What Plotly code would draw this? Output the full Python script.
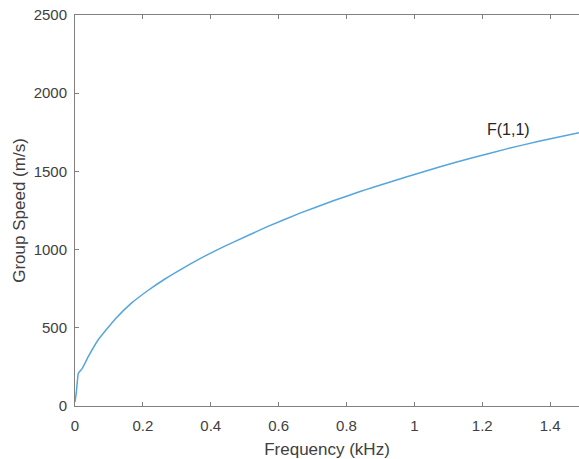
import plotly.graph_objects as go

freq_khz = [0.0, 0.004, 0.0098, 0.0216, 0.039, 0.069, 0.118, 0.167, 0.216, 0.265, 0.315,
            0.363, 0.413, 0.467, 0.565, 0.663, 0.761, 0.84, 0.879, 0.978, 1.076,
            1.174, 1.272, 1.37, 1.485]
group_speed = [25, 90, 209, 241, 315, 425, 555, 659, 740, 812, 877,
               936, 992, 1048, 1145, 1233, 1312, 1371, 1399, 1466, 1530,
               1589, 1644, 1695, 1747]

label_text = "F(1,1)"
label_x = 1.276
label_y = 1765

x_ticks = [0, 0.2, 0.4, 0.6, 0.8, 1.0, 1.2, 1.4]
x_tick_text = ["0", "0.2", "0.4", "0.6", "0.8", "1", "1.2", "1.4"]
y_ticks = [0, 500, 1000, 1500, 2000, 2500]

fig = go.Figure()
fig.add_trace(go.Scatter(x=freq_khz, y=group_speed, mode="lines",
                         line=dict(color="#55a6dc", width=1.5, shape="spline", smoothing=0.3),
                         showlegend=False))
fig.add_annotation(x=label_x, y=label_y, text=label_text, showarrow=False,
                   font=dict(size=16, color="#262626"))

font_family = "Liberation Sans, Arial, sans-serif"
axis_common = dict(showgrid=False, zeroline=False, showline=True, linecolor="#808080",
                   linewidth=1, ticks="inside", ticklen=4, tickcolor="#808080",
                   automargin=False,
                   tickfont=dict(size=15, color="#404040", family=font_family),
                   title_font=dict(size=17, color="#404040", family=font_family))

fig.update_xaxes(range=[0, 1.485], tickvals=x_ticks, ticktext=x_tick_text,
                 mirror="ticks", title_text="Frequency (kHz)", title_standoff=11,
                 ticklabelstandoff=6, **axis_common)
fig.update_yaxes(range=[0, 2500], tickvals=y_ticks, mirror=False,
                 title_text="Group Speed (m/s)", title_standoff=3, ticklabelstandoff=4,
                 **axis_common)

fig.update_layout(width=579, height=459, margin=dict(l=75, r=0, t=15, b=53),
                  paper_bgcolor="white", plot_bgcolor="white",
                  font=dict(family=font_family))

fig.write_html("out.html", config={"displayModeBar": False},
               post_script="document.body.style.margin='0';document.body.style.padding='0';")
